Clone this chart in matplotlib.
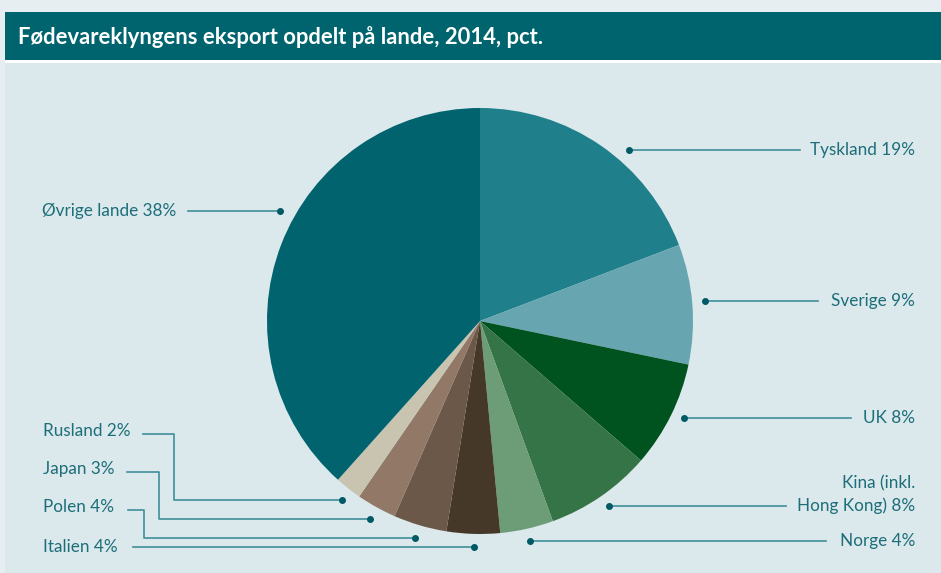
import matplotlib.pyplot as plt
import matplotlib.patches as mpatches

# data (shares in pct, clockwise from 12 o'clock)
lande = ['Tyskland', 'Sverige', 'UK', 'Kina (inkl.\nHong Kong)', 'Norge',
         'Italien', 'Polen', 'Japan', 'Rusland', 'Øvrige lande']
andel = [19, 9, 8, 8, 4, 4, 4, 3, 2, 38]
farver = ['#1f7f8a', '#67a5b0', '#00531f', '#357446', '#6d9d76',
          '#463829', '#6b5848', '#927866', '#c8c4b0', '#00636e']

W, H = 941, 573
fig = plt.figure(figsize=(W / 100, H / 100), dpi=100)
fig.patch.set_facecolor('#e6eef1')
plt.rcParams['font.family'] = ['Lato', 'DejaVu Sans']

# background / frame in pixel coords
bg = fig.add_axes([0, 0, 1, 1])
bg.set_xlim(0, W)
bg.set_ylim(H, 0)
bg.axis('off')
bg.add_patch(mpatches.Rectangle((5, 62), W, H, color='#dbe8ec', lw=0))
bg.add_patch(mpatches.Rectangle((5, 12), W, 48, color='#00646f', lw=0))
bg.add_patch(mpatches.Rectangle((5, 60), W, 2.5, color='white', lw=0))
bg.text(18, 37, 'Fødevareklyngens eksport opdelt på lande, 2014, pct.',
        color='white', fontsize=15.8, fontweight='bold', va='center', ha='left')

# pie
cx, cy, r = 480, 321, 213
ax = fig.add_axes([(cx - r) / W, (H - cy - r) / H, 2 * r / W, 2 * r / H])
ax.pie(andel, colors=farver, startangle=90, counterclock=False,
       wedgeprops=dict(linewidth=0))
ax.set_xlim(-1, 1)
ax.set_ylim(-1, 1)
ax.axis('off')

tekst = '#1c6e79'
linje = '#3f8f99'
prik = '#005a66'
fs = 12.3

# right side labels: (label index, dot x, dot y, line end x)
hoejre = [(0, 629, 150, 800), (1, 705, 301, 818), (2, 684, 418, 851),
          (3, 609, 506, 786), (4, 530, 541, 826)]
for i, dx, dy, lx in hoejre:
    bg.plot([dx, lx], [dy, dy], color=linje, lw=1.2)
    bg.plot(dx, dy, 'o', color=prik, ms=4)
    s = lande[i] + ' %d%%' % andel[i]
    if '\n' in s:
        a, b = s.split('\n')
        bg.text(915, dy - 23, a, color=tekst, fontsize=fs, ha='right', va='center')
        bg.text(915, dy, b, color=tekst, fontsize=fs, ha='right', va='center')
    else:
        bg.text(915, dy, s, color=tekst, fontsize=fs, ha='right', va='center')

# Øvrige
bg.plot([188, 280], [211, 211], color=linje, lw=1.2)
bg.plot(280, 211, 'o', color=prik, ms=4)
bg.text(42, 211, 'Øvrige lande %d%%' % andel[9], color=tekst, fontsize=fs,
        ha='left', va='center')

# left bottom labels: (index, text y, line start x, elbow x, dot x, dot y)
venstre = [(8, 431, 143, 174, 342, 500), (7, 469, 127, 159, 370, 519),
           (6, 507, 128, 144, 415, 538)]
for i, ty, sx, ex, dx, dy in venstre:
    bg.plot([sx, ex, ex, dx], [ty + 3, ty + 3, dy, dy], color=linje, lw=1.2)
    bg.plot(dx, dy, 'o', color=prik, ms=4)
    bg.text(43, ty, '%s %d%%' % (lande[i], andel[i]), color=tekst, fontsize=fs,
            ha='left', va='center')

bg.plot([133, 474], [547, 547], color=linje, lw=1.2)
bg.plot(474, 547, 'o', color=prik, ms=4)
bg.text(43, 547, 'Italien %d%%' % andel[5], color=tekst, fontsize=fs,
        ha='left', va='center')

fig.savefig('out.png', dpi=100, facecolor=fig.get_facecolor())
